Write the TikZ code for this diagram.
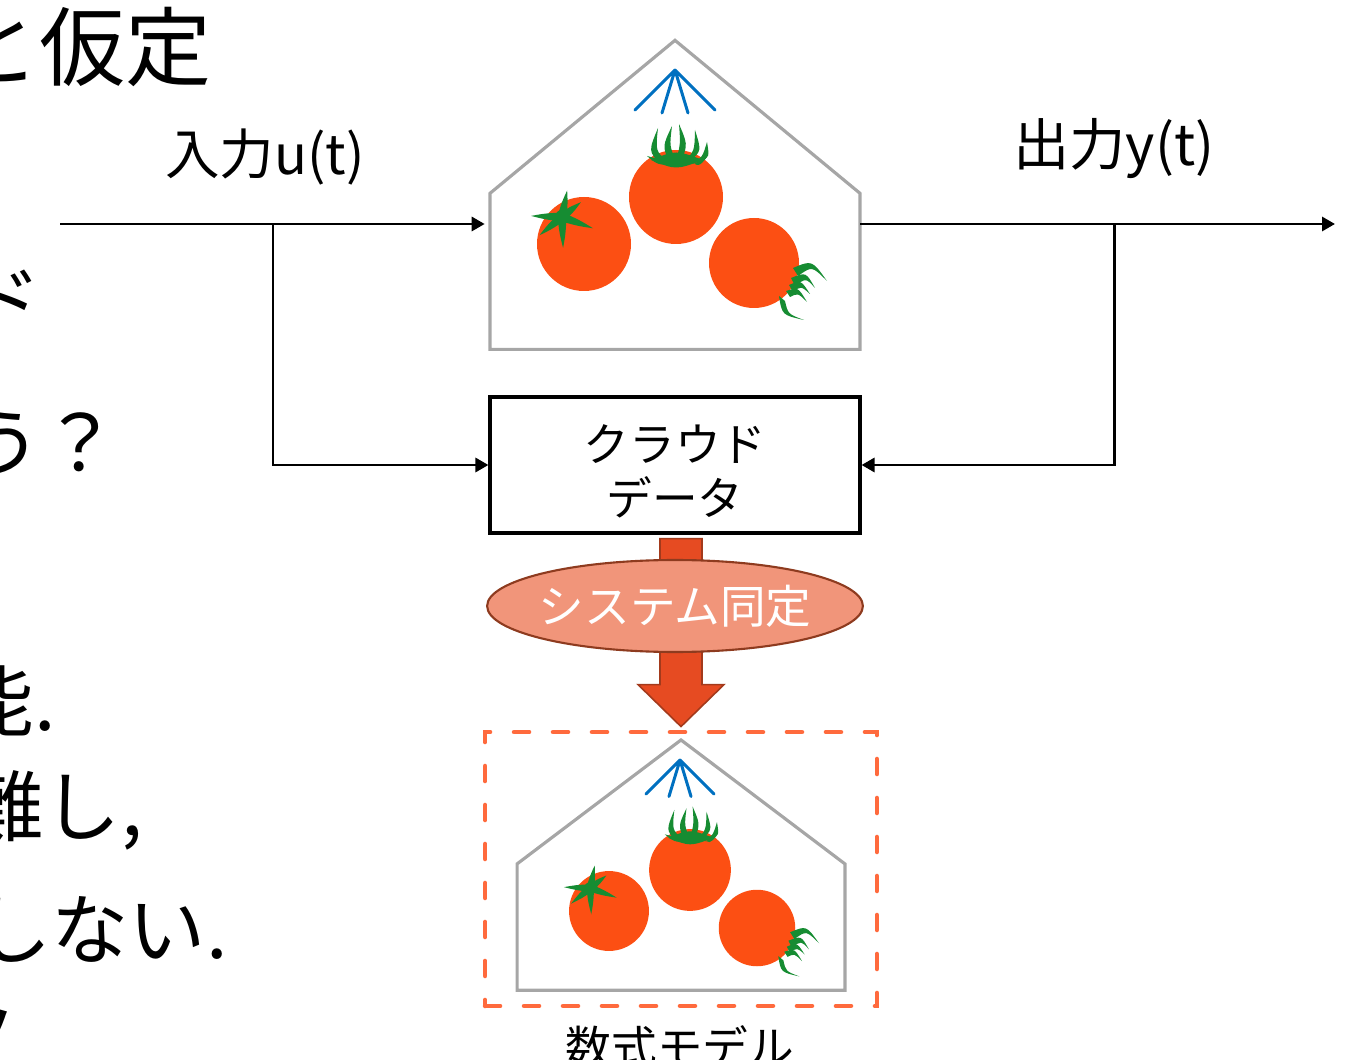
\documentclass[tikz,border=0pt]{standalone}
\usepackage{fontspec}
\setmainfont{Noto Sans CJK JP}
\usepackage{tikz}
\usetikzlibrary{calc,arrows.meta,positioning,shapes.geometric}
\definecolor{tomred}{HTML}{FC4F13}
\definecolor{leafg}{HTML}{168C32}
\definecolor{sprayb}{HTML}{0070C0}
\definecolor{shedgray}{HTML}{A6A6A6}
\definecolor{arrowfill}{HTML}{E64B22}
\definecolor{arrowedge}{HTML}{A33A1C}
\definecolor{idfill}{HTML}{F1957A}
\definecolor{idedge}{HTML}{8E3B1F}
\definecolor{modeldash}{HTML}{FF6A3D}
\tikzset{
  sig/.style={-{Triangle[length=2.6mm,width=2.8mm]},line width=1.7pt,black},
  shedline/.style={draw=shedgray,line width=1.8pt,line join=miter},
  databox/.style={draw=black,line width=1.8pt,align=center,minimum width=7.4cm,minimum height=2.72cm,font=\fontsize{26pt}{31pt}\selectfont},
  sysid/.style={ellipse,draw=idedge,line width=1.2pt,fill=idfill,text=white,minimum width=7.48cm,minimum height=1.84cm,inner xsep=-0.07cm,inner ysep=0pt,font=\fontsize{26pt}{31pt}\selectfont},
  modelbox/.style={draw=modeldash,line width=2.6pt,dash pattern=on 0.3cm off 0.48cm,line cap=round,minimum width=7.84cm,minimum height=5.48cm},
  bigarrow/.style={fill=arrowfill,draw=arrowedge,line width=0.9pt},
  iolabel/.style={font=\fontsize{31pt}{37pt}\selectfont,inner sep=0pt},
  sidetext/.style={anchor=base east,inner sep=0pt,font=\fontsize{44pt}{52pt}\selectfont},
  % greenhouse outline, origin at the middle of the floor
  shed/.pic={\draw[shedline] (-185,0) -- (-185,-156) -- (0,-309) -- (185,-156) -- (185,0) -- cycle;},
  spray/.pic={\draw[sprayb,line width=1.7pt,line cap=round,line join=round] (-40,40) -- (0,0) -- (40,40) (-13,43) -- (0,0) -- (13,43);},
  % tomatoes, origin at the centre of the fruit
  fruitstar/.pic={
    \fill[tomred] (0,0) circle (47);
    \foreach \a/\l in {178/31,79/27,38/24,-20/33,-88/31,-141/29}
      \fill[leafg,shift={(-22,-27)},rotate=\a] (0,-4.5) .. controls (0.55*\l,-3) .. (\l,0) .. controls (0.55*\l,3) .. (0,4.5) -- cycle;
    \fill[leafg] (-22,-27) circle (7);
  },
  fruittop/.pic={
    \fill[tomred] (0,0) circle (47);
    \fill[leafg] (-25,-37) .. controls (0,-47) .. (27,-37) .. controls (0,-27) .. cycle;
    \foreach \ax/\ay/\bx/\by/\cx/\cy/\tx/\ty in {
        -16/-33/-8/-35/-24/-46/-18/-69, -7/-35/0/-36/-10/-51/-4/-71,
        0/-36/6/-37/8/-53/3/-73, 8/-35/14/-36/22/-46/19/-67,
        17/-34/24/-35/30/-40/31/-55}
      \fill[leafg] (\ax,\ay) .. controls (\cx-3.5,\cy) .. (\tx,\ty) .. controls (\cx+3.5,\cy) .. (\bx,\by) -- cycle;
    \foreach \ax/\ay/\bx/\by/\cx/\cy/\tx/\ty in {
        -4/-33/-10/-38/-18/-35/-29/-41, 12/-37/18/-33/23/-33/31/-40}
      \fill[leafg] (\ax,\ay) .. controls (\cx,\cy+3) .. (\tx,\ty) .. controls (\cx,\cy-3) .. (\bx,\by) -- cycle;
  },
  fruitside/.pic={
    \fill[tomred] (0,0) circle (45);
    \foreach \ax/\ay/\bx/\by/\cx/\cy/\tx/\ty in {
        39/5/44/13/58/0/73/18, 37/15/41/23/52/12/61/25,
        35/22/39/29/47/20/56/31, 32/28/36/34/44/27/53/39}
      \fill[leafg] (\ax,\ay) .. controls (\cx,\cy-3) .. (\tx,\ty) .. controls (\cx,\cy+3) .. (\bx,\by) -- cycle;
    \fill[leafg] (31,38) .. controls (34,51) .. (50,57) .. controls (28,52) .. (25,33) -- cycle;
  }
}
\begin{document}
\begin{tikzpicture}[x=0.02cm,y=-0.02cm]
\useasboundingbox (0,0) rectangle (1349,1060);
\clip (0,0) rectangle (1349,1060);

% slide text running in from the left
\node[sidetext,font=\fontsize{49pt}{58pt}\selectfont] (lead) at (212,80) {と仮定};
\node[sidetext] (l2) at (42,330) {ド};
\node[sidetext] (l3) at (119,472) {う？};
\node[sidetext] (l4) at (56,730) {能.};
\node[sidetext] (l5) at (143,835) {難し,};
\node[sidetext] (l6) at (228,958) {しない.};
\node[sidetext] (l7) at (23,1067) {ノ};

% real plant
\node[minimum width=7.4cm,minimum height=3.12cm,inner sep=0pt] (plant) at (675,271) {};
\pic at (plant.south) {shed};
\pic at (675,70) {spray};
\pic at (584,244) {fruitstar};
\pic at (676,197) {fruittop};
\pic at (754,263) {fruitside};

% input and output signals
\coordinate (u0) at (60,224);
\coordinate (ubr) at (273,224);
\coordinate (y1) at (1335,224);
\coordinate (ybr) at (1114,224);
\node[iolabel] (inlabel) at (265,157) {入力u(t)};
\node[iolabel,font=\fontsize{32pt}{38pt}\selectfont] (outlabel) at (1114,149) {出力y(t)};

\node[databox] (cloud) at (675,465) {\rule{0pt}{1.0cm}クラウド\\データ};

\draw[sig,shorten >=0.1cm] (u0) -- (u0 -| plant.west);
\draw[sig] (ubr) |- (cloud.west);
\draw[sig] (plant.east |- y1) -- (y1);
\draw[sig] (ybr) |- (cloud.east);

% identification step
\coordinate (atop) at ($(cloud.south)+(6,4)$);
\draw[bigarrow] ($(atop)+(-21,0)$) -- ($(atop)+(21,0)$) -- ($(atop)+(21,146)$) -- ($(atop)+(43,146)$)
  -- ($(atop)+(0,188)$) -- ($(atop)+(-43,146)$) -- ($(atop)+(-21,146)$) -- cycle;
\node[sysid] (ident) at (675,606) {システム同定};

% model of the plant
\node[modelbox] (model) at (681,869) {};
\pic[xscale=0.886,yscale=0.81] at ($(model.south)+(0,-18)$) {shed};
\pic[scale=0.85] at (680,760) {spray};
\pic[scale=0.85] at (609,911) {fruitstar};
\pic[scale=0.87] at (690,870) {fruittop};
\pic[scale=0.85] at (757,928) {fruitside};
\node[iolabel,font=\fontsize{26pt}{31pt}\selectfont,anchor=base] (modellabel) at (680,1064) {数式モデル};
\end{tikzpicture}
\end{document}
